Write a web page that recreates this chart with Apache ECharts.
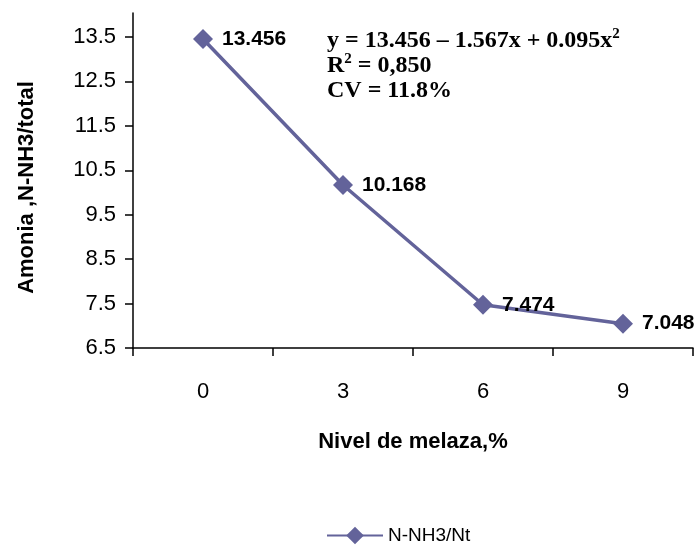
<!DOCTYPE html>
<html><head><meta charset="utf-8">
<script src="https://cdn.jsdelivr.net/npm/echarts@6/dist/echarts.min.js"></script>
<style>html,body{margin:0;padding:0;background:#fff}#c{width:698px;height:550px}</style>
</head><body><div id="c"></div>
<script>
var categories = ['0', '3', '6', '9'];
var values = [13.456, 10.168, 7.474, 7.048];
var yTicks = [6.5, 7.5, 8.5, 9.5, 10.5, 11.5, 12.5, 13.5];
var seriesName = 'N-NH3/Nt';
var color = '#63639A';

var chart = echarts.init(document.getElementById('c'));
chart.setOption({
  animation: false,
  grid: { left: 133, right: 5, top: 13, bottom: 202 },
  xAxis: {
    type: 'category', data: categories, boundaryGap: true,
    name: 'Nivel de melaza,%', nameLocation: 'middle', nameGap: 83,
    nameTextStyle: { fontFamily: 'Liberation Sans', fontWeight: 'bold', fontSize: 22, color: '#000' },
    axisLine: { lineStyle: { color: '#000', width: 1.5 } },
    axisTick: { show: true, length: 8, lineStyle: { color: '#000', width: 1.5 } },
    axisLabel: { fontFamily: 'Liberation Sans', fontSize: 22, color: '#000', margin: 33 },
    splitLine: { show: false }
  },
  yAxis: {
    type: 'value', min: 6.5, max: 14.04,
    name: 'Amonia ,N-NH3/total', nameLocation: 'middle', nameGap: 95, nameRotate: 90,
    nameTextStyle: { fontFamily: 'Liberation Sans', fontWeight: 'bold', fontSize: 22, color: '#000', padding: [0, 14, 0, 0] },
    axisLine: { show: true, lineStyle: { color: '#000', width: 1.5 } },
    axisTick: { show: true, inside: false, length: 8, customValues: yTicks, lineStyle: { color: '#000', width: 1.5 } },
    axisLabel: { fontFamily: 'Liberation Sans', fontSize: 22, color: '#000', margin: 17, customValues: yTicks,
      formatter: function (v) { return v.toFixed(1); } },
    splitLine: { show: false }
  },
  legend: {
    top: 526, left: 326, padding: 0,
    itemWidth: 56, itemHeight: 22,
    textStyle: { fontFamily: 'Liberation Sans', fontSize: 19, color: '#000' },
    data: [seriesName]
  },
  graphic: [{
    type: 'text', left: 327, top: 27,
    style: {
      text: '{m|y = 13.456 – 1.567x + 0.095x}{s|2}\n{m|R}{s|2}{m| = 0,850}\n{m|CV = 11.8%}',
      rich: {
        m: { fontFamily: 'Liberation Serif', fontWeight: 'bold', fontSize: 24, color: '#000', lineHeight: 25 },
        s: { fontFamily: 'Liberation Serif', fontWeight: 'bold', fontSize: 15, color: '#000', lineHeight: 25, padding: [0, 0, 12, 0] }
      }
    }
  }],
  series: [{
    name: seriesName, type: 'line', data: values,
    symbol: 'diamond', symbolSize: 20,
    itemStyle: { color: color },
    lineStyle: { color: color, width: 3.5 },
    label: { show: true, position: 'right', distance: 9, fontFamily: 'Liberation Sans', fontWeight: 'bold', fontSize: 21, color: '#000',
      formatter: function (p) { return p.value.toFixed(3); } }
  }]
});
</script></body></html>
